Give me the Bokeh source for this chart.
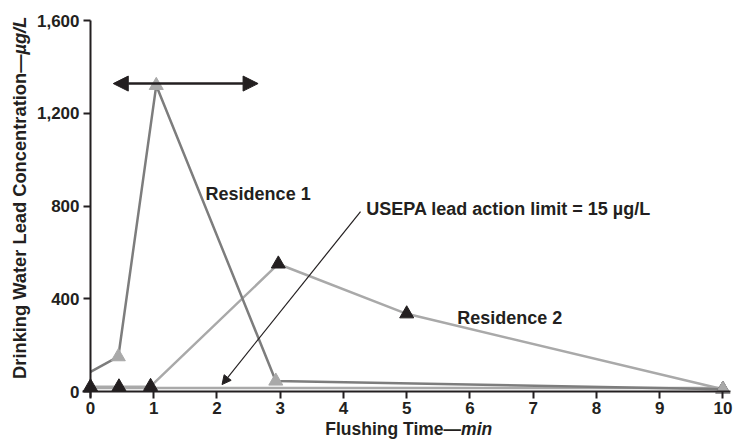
from bokeh.plotting import figure
from bokeh.models import (Range1d, FixedTicker, NumeralTickFormatter, Label,
                          Arrow, NormalHead)
from bokeh.embed import file_html
from bokeh.resources import INLINE
import math

# Flushing profiles (time in minutes, lead in µg/L)
r1_time = [0, 0.44, 1.04, 2.93, 10]
r1_lead = [85, 150, 1320, 45, 10]

r2_time = [0, 0.45, 0.95, 2.97, 5, 10]
r2_lead = [20, 20, 22, 550, 335, 10]

# USEPA action limit
limit_time = [0, 10]
limit_lead = [15, 15]

# Axis ticks
x_ticks = [0, 1, 2, 3, 4, 5, 6, 7, 8, 9, 10]
y_ticks = [0, 400, 800, 1200, 1600]

# Span of the stagnation-release window (double arrow)
window_start, window_end, window_level = 0.36, 2.65, 1328

FONT = "Liberation Sans"
INK = "#231f20"
DARK = "#7d7d7d"
LIGHT = "#a9a9a9"

# The frame fills the whole canvas; the axes are pinned at the origin so the
# titles can sit inside the frame as ordinary labels.
PX_PER_MIN = 63.24
PX_PER_UG = 371 / 1600
ORIGIN_X, ORIGIN_Y, W, H = 90, 391, 734, 439

p = figure(width=W, height=H, output_backend="svg", toolbar_location=None,
           x_range=Range1d(-ORIGIN_X / PX_PER_MIN, (W - ORIGIN_X) / PX_PER_MIN),
           y_range=Range1d(-(H - ORIGIN_Y) / PX_PER_UG, ORIGIN_Y / PX_PER_UG),
           min_border=0)
p.outline_line_color = None
p.xgrid.visible = False
p.ygrid.visible = False
p.background_fill_color = "white"
p.border_fill_color = "white"

for ax in (p.xaxis[0], p.yaxis[0]):
    ax.fixed_location = 0
    ax.axis_line_color = INK
    ax.axis_line_width = 2
    ax.major_tick_line_color = INK
    ax.major_tick_line_width = 2
    ax.major_tick_out = 7
    ax.major_tick_in = 0
    ax.minor_tick_line_color = None
    ax.major_label_text_font = FONT
    ax.major_label_text_font_style = "bold"
    ax.major_label_text_font_size = "17px"
    ax.major_label_text_color = INK

p.xaxis.ticker = FixedTicker(ticks=x_ticks)
p.yaxis.ticker = FixedTicker(ticks=y_ticks)
p.xaxis.bounds = (-0.12, 10.12)
p.yaxis.bounds = (-25, 1600)
p.yaxis.formatter = NumeralTickFormatter(format="0,0")
p.xaxis.major_label_standoff = 3
p.yaxis.major_label_standoff = 4

# Lines
p.line(limit_time, limit_lead, line_color=LIGHT, line_width=2.5)
p.line(r2_time, r2_lead, line_color=LIGHT, line_width=2.5)
p.line(r1_time, r1_lead, line_color=DARK, line_width=2.5)

# Markers
p.scatter(r2_time, r2_lead, marker="triangle", size=14, fill_color=INK,
          line_color=INK)
p.scatter(r1_time[1:], r1_lead[1:], marker="triangle", size=14,
          fill_color=LIGHT, line_color=LIGHT)

# Double-headed arrow over the peak
p.add_layout(Arrow(x_start=window_start, y_start=window_level,
                   x_end=window_end, y_end=window_level,
                   line_color=INK, line_width=2.5,
                   start=NormalHead(size=15, fill_color=INK, line_color=INK),
                   end=NormalHead(size=15, fill_color=INK, line_color=INK)))

# Pointer to the action limit
p.add_layout(Arrow(x_start=4.27, y_start=776, x_end=2.08, y_end=30,
                   line_color=INK, line_width=1.2,
                   end=NormalHead(size=9, fill_color=INK, line_color=INK)))


def label(x, y, text, style="bold", align="left", angle=0, size="18px"):
    p.add_layout(Label(x=x, y=y, text=text, text_font=FONT,
                       text_font_style=style, text_font_size=size,
                       text_color=INK, text_align=align,
                       text_baseline="middle", angle=angle))


label(1.82, 850, "Residence 1")
label(4.36, 785, "USEPA lead action limit = 15 µg/L")
label(5.80, 319, "Residence 2")

# Axis titles (roman text + italic unit)
label(5.86, -160, "Flushing Time\u2014", align="right", size="17.5px")
label(5.86, -160, "min", style="bold italic", size="17.5px")
label(-1.125, 1453, "Drinking Water Lead Concentration\u2014", align="right",
      angle=math.pi / 2, size="18.3px")
label(-1.125, 1453, "µg/L", style="bold italic", angle=math.pi / 2,
      size="18.3px")

open("out.html", "w").write(file_html(p, INLINE))
